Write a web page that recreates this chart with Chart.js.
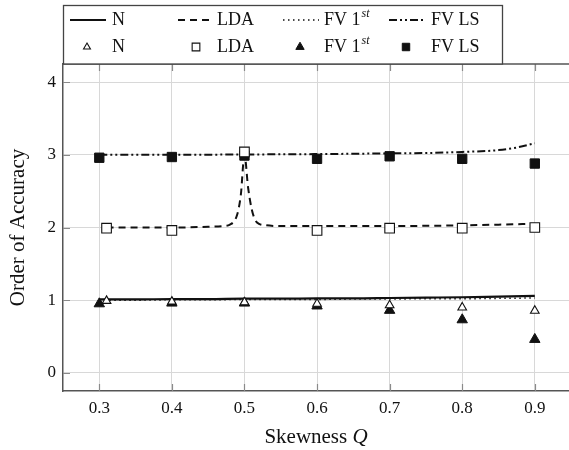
<!DOCTYPE html>
<html>
<head>
<meta charset="utf-8">
<script src="https://cdn.jsdelivr.net/npm/chart.js@4.4.1/dist/chart.umd.min.js"></script>
<style>
  html, body { margin: 0; padding: 0; background: #fff; overflow: hidden; }
  #accChart { display: block; }
</style>
</head>
<body>
<canvas id="accChart" width="579" height="450"></canvas>
<script>
// skewness values for the measured points
const markQ = [0.3, 0.4, 0.5, 0.6, 0.7, 0.8, 0.9];
const markQShift = [0.31, 0.4, 0.5, 0.6, 0.7, 0.8, 0.9];
const nPts = [0.99, 0.98, 0.97, 0.95, 0.93, 0.90, 0.855];
const ldaPts = [1.99, 1.96, 3.04, 1.96, 1.99, 1.99, 2.00];
const fv1Pts = [0.95, 0.96, 0.96, 0.92, 0.86, 0.73, 0.46];
const lsPts = [2.96, 2.97, 2.99, 2.945, 2.98, 2.945, 2.88];

// predicted order curves
const curveQ = [0.30, 0.35, 0.40, 0.45, 0.50, 0.55, 0.60, 0.65, 0.70, 0.75, 0.80, 0.85, 0.90];
const nCurve = [1.01, 1.01, 1.015, 1.015, 1.02, 1.02, 1.025, 1.025, 1.03, 1.035, 1.04, 1.05, 1.06];
const fv1Curve = [1.0, 1.0, 1.005, 1.005, 1.01, 1.01, 1.01, 1.015, 1.015, 1.02, 1.02, 1.025, 1.03];
const lsQ = [0.30, 0.40, 0.50, 0.60, 0.70, 0.75, 0.80, 0.85, 0.875, 0.90];
const lsCurve = [3.0, 3.0, 3.005, 3.01, 3.02, 3.025, 3.04, 3.065, 3.1, 3.16];
const ldaQ = [0.31, 0.35, 0.40, 0.45, 0.47, 0.48, 0.49, 0.495, 0.50, 0.505, 0.51, 0.515, 0.52, 0.53, 0.55, 0.60, 0.70, 0.80, 0.90];
const ldaCurve = [2.00, 2.00, 2.00, 2.01, 2.02, 2.04, 2.18, 2.45, 3.00, 2.55, 2.25, 2.10, 2.05, 2.03, 2.02, 2.02, 2.02, 2.03, 2.05];

const xTicks = [0.3, 0.4, 0.5, 0.6, 0.7, 0.8, 0.9];
const yTicks = [0, 1, 2, 3, 4];

const serif = '"Liberation Serif", "DejaVu Serif", serif';
const ink = '#111';

function pts(xs, ys) {
    return xs.map((x, i) => ({ x: x, y: ys[i] }));
}

function marks(label, xs, ys, style, radius, filled) {
    return {
        label: label, data: pts(xs, ys), showLine: false,
        pointStyle: style, pointRadius: radius, pointHoverRadius: radius,
        pointBackgroundColor: filled ? ink : '#fff',
        pointBorderColor: ink, pointBorderWidth: filled ? 1 : 1.1
    };
}

function curve(label, xs, ys, dash, width) {
    return {
        label: label, data: pts(xs, ys), pointRadius: 0,
        borderColor: ink, borderWidth: width, borderDash: dash,
        cubicInterpolationMode: 'monotone', fill: false
    };
}

const datasets = [
    marks('N', markQShift, nPts, 'triangle', 5, false),
    marks('LDA', markQShift, ldaPts, 'rect', 6.8, false),
    marks('FV 1st', markQ, fv1Pts, 'triangle', 6, true),
    marks('FV LS', markQ, lsPts, 'rect', 6.6, true),
    curve('N', curveQ, nCurve, [], 2.2),
    curve('LDA', ldaQ, ldaCurve, [7, 5], 2),
    curve('FV 1st', curveQ, fv1Curve, [1.5, 3.5], 1.5),
    curve('FV LS', lsQ, lsCurve, [8, 3, 2, 3, 2, 3], 2)
];

// legend entries: [dataset index, sample x, text x]
const legendRows = [
    [[4, 70, 112], [5, 178, 217], [6, 283, 324], [7, 389, 431]],
    [[0, 87, 112], [1, 196, 217], [2, 300, 324], [3, 406, 431]]
];

function drawLabel(ctx, text, x, y) {
    ctx.font = '18px ' + serif;
    ctx.textAlign = 'left';
    ctx.textBaseline = 'middle';
    if (text === 'FV 1st') {
        ctx.fillText('FV 1', x, y);
        const w = ctx.measureText('FV 1').width;
        ctx.font = 'italic 12px ' + serif;
        ctx.fillText('st', x + w + 1, y - 6);
    } else {
        ctx.fillText(text, x, y);
    }
}

const framePlugin = {
    id: 'frame',
    beforeDatasetsDraw(chart) {
        const ctx = chart.ctx, a = chart.chartArea;
        const xs = chart.scales.x, ys = chart.scales.y;
        ctx.save();
        ctx.strokeStyle = '#8a8a8a';
        ctx.lineWidth = 1.2;
        ctx.beginPath();
        xTicks.forEach(v => {
            const px = Math.round(xs.getPixelForValue(v)) + 0.5;
            ctx.moveTo(px, a.bottom); ctx.lineTo(px, a.bottom - 7);
            ctx.moveTo(px, a.top); ctx.lineTo(px, a.top + 7);
        });
        yTicks.forEach(v => {
            const py = Math.round(ys.getPixelForValue(v)) + 0.5;
            ctx.moveTo(a.left, py); ctx.lineTo(a.left + 7, py);
        });
        ctx.stroke();
        ctx.restore();
    },
    afterDraw(chart) {
        const ctx = chart.ctx, a = chart.chartArea;
        ctx.save();
        // top frame line
        ctx.strokeStyle = '#555';
        ctx.lineWidth = 1.5;
        ctx.beginPath();
        ctx.moveTo(a.left, a.top); ctx.lineTo(a.right, a.top);
        ctx.stroke();

        // legend box
        ctx.fillStyle = '#fff';
        ctx.fillRect(63, 5, 439, 59);
        ctx.strokeStyle = '#444';
        ctx.lineWidth = 1.3;
        ctx.strokeRect(63.5, 5.5, 439, 58.5);

        const rowY = [20, 47];
        legendRows.forEach((row, r) => {
            row.forEach(([di, sx, tx]) => {
                const ds = chart.data.datasets[di];
                const y = rowY[r];
                ctx.fillStyle = ink;
                if (ds.showLine === false) {
                    ctx.save();
                    ctx.lineWidth = ds.pointBorderWidth;
                    ctx.strokeStyle = ds.pointBorderColor;
                    ctx.fillStyle = ds.pointBackgroundColor;
                    Chart.helpers.drawPoint(ctx, {
                        pointStyle: ds.pointStyle, radius: ds.pointRadius * 0.8,
                        rotation: 0, borderWidth: ds.pointBorderWidth
                    }, sx, y);
                    ctx.restore();
                } else {
                    ctx.save();
                    ctx.strokeStyle = ink;
                    ctx.lineWidth = ds.borderWidth;
                    ctx.setLineDash(ds.borderDash);
                    ctx.beginPath();
                    ctx.moveTo(sx, y); ctx.lineTo(sx + 36, y);
                    ctx.stroke();
                    ctx.restore();
                }
                ctx.fillStyle = ink;
                drawLabel(ctx, ds.label, tx, y);
            });
        });

        // axis titles
        ctx.fillStyle = ink;
        ctx.font = '21px ' + serif;
        ctx.textBaseline = 'middle';
        ctx.textAlign = 'center';
        ctx.save();
        ctx.translate(18, (a.top + a.bottom) / 2);
        ctx.rotate(-Math.PI / 2);
        ctx.fillText('Order of Accuracy', 0, 0);
        ctx.restore();

        const part1 = 'Skewness ';
        const w1 = ctx.measureText(part1).width;
        ctx.font = 'italic 21px ' + serif;
        const w2 = ctx.measureText('Q').width;
        const start = 316 - (w1 + w2) / 2;
        ctx.textAlign = 'left';
        ctx.font = '21px ' + serif;
        ctx.fillText(part1, start, 437);
        ctx.font = 'italic 21px ' + serif;
        ctx.fillText('Q', start + w1, 437);
        ctx.restore();
    }
};

new Chart(document.getElementById('accChart'), {
    type: 'line',
    data: { datasets: datasets },
    plugins: [framePlugin],
    options: {
        responsive: false,
        animation: false,
        devicePixelRatio: 1,
        layout: { padding: { top: 64, right: 1, left: 0, bottom: 0 } },
        plugins: { legend: { display: false }, tooltip: { enabled: false } },
        scales: {
            x: {
                type: 'linear', min: 0.25, max: 0.95,
                afterBuildTicks: s => { s.ticks = xTicks.map(v => ({ value: v })); },
                afterFit: s => {
                    s.height = 59;
                    s.paddingLeft = 0;
                    s.paddingRight = 0;
                },
                grid: { color: '#d8d8d8', lineWidth: 1, drawTicks: false },
                border: { color: '#555', width: 1.5 },
                ticks: {
                    padding: 7, color: ink,
                    font: { family: serif, size: 17 },
                    callback: v => v.toFixed(1)
                }
            },
            y: {
                type: 'linear', min: -0.25, max: 4.25,
                afterBuildTicks: s => { s.ticks = yTicks.map(v => ({ value: v })); },
                afterFit: s => {
                    s.width = 63;
                    s.paddingTop = 0;
                    s.paddingBottom = 0;
                },
                grid: { color: '#d8d8d8', lineWidth: 1, drawTicks: false },
                border: { color: '#555', width: 1.5 },
                ticks: {
                    padding: 7, color: ink,
                    font: { family: serif, size: 17 },
                    callback: v => String(v)
                }
            }
        }
    }
});
</script>
</body>
</html>
